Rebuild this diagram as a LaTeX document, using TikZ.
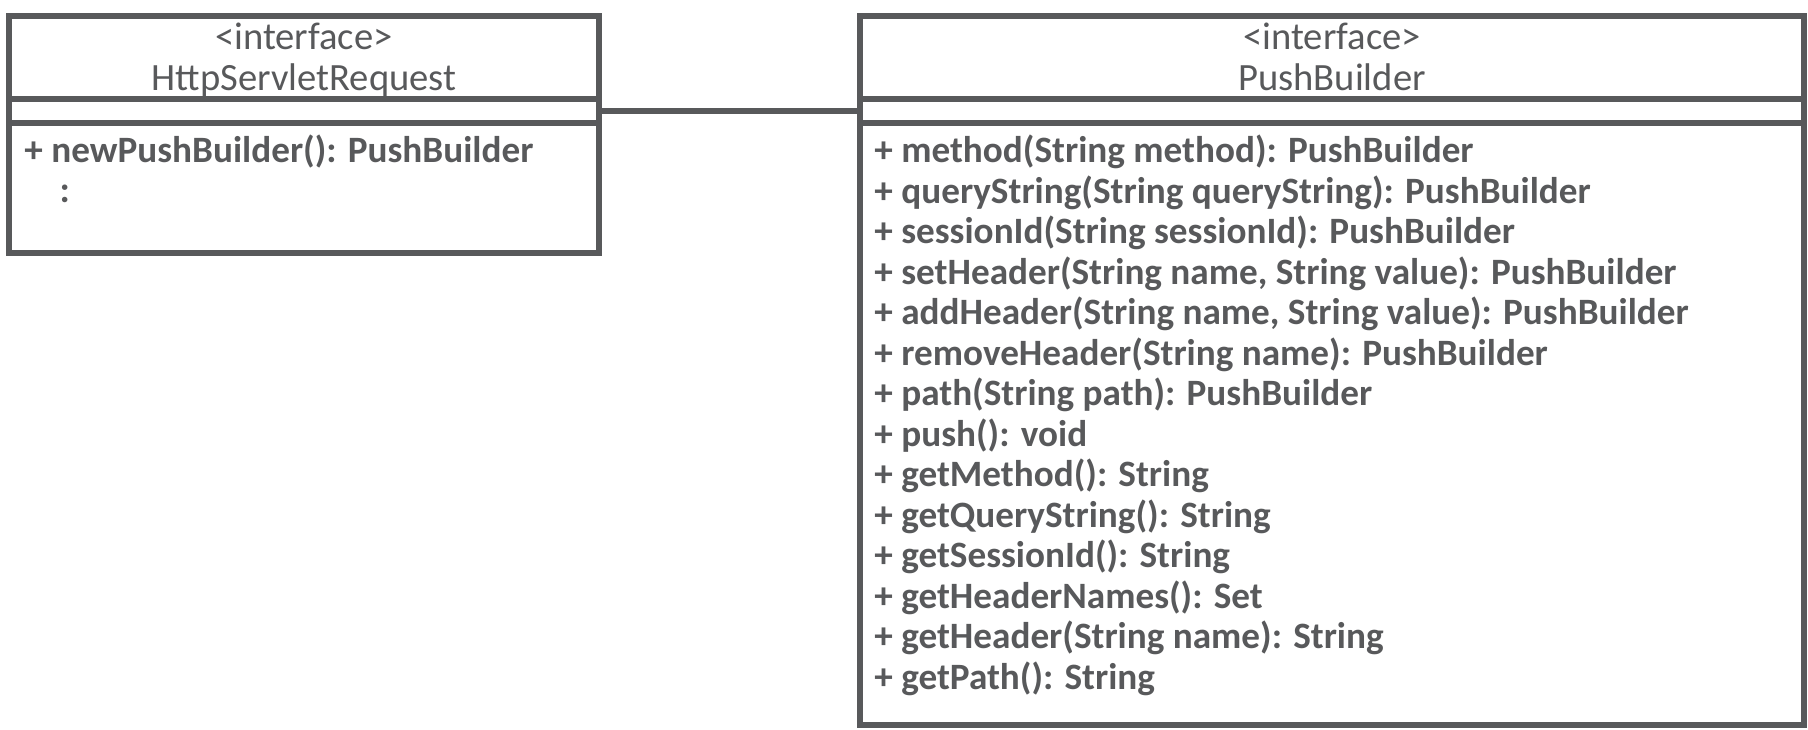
\documentclass[tikz,border=0pt]{standalone}
\usepackage{fontspec}
\setmainfont{Carlito}
\usepackage{tikz}
\usetikzlibrary{positioning}
\definecolor{UMLGray}{HTML}{58595B}

\begin{document}
\begin{tikzpicture}[x=0.5pt, y=-0.5pt,
                    every node/.style={text=UMLGray},
                    part/.style={draw=UMLGray, line width=2.75pt, rectangle, inner sep=0pt,
                                 outer sep=0pt, anchor=north},
                    head/.style={part, align=center, font=\fontsize{19.3}{20.5}\selectfont},
                    ops/.style={anchor=north west, align=left, inner sep=0pt,
                                font=\bfseries\fontsize{18.6}{20.25}\selectfont}]
  \useasboundingbox (0,0) rectangle (1808,729);
  % left class
  \node[head, minimum width=295pt, minimum height=41.5pt] (hsrhead) at (304,16)
    {\rule{0pt}{16.5pt}<interface>\\\smash{HttpServletRequest}\rule[-3.9pt]{0pt}{1pt}};
  \node[part, minimum width=295pt, minimum height=12pt, below=0pt of hsrhead] (hsrattr) {};
  \node[part, minimum width=295pt, minimum height=65pt, below=0pt of hsrattr] (hsrops) {};
  \node[ops] (hsrtext) at (24,134) {+ newPushBuilder(): PushBuilder\\\hspace{0.95em}:};
  % right class
  \node[head, minimum width=472pt, minimum height=41.5pt] (pbhead) at (1332,16)
    {\rule{0pt}{16.5pt}<interface>\\\smash{PushBuilder}\rule[-3.9pt]{0pt}{1pt}};
  \node[part, minimum width=472pt, minimum height=12pt, below=0pt of pbhead] (pbattr) {};
  \node[part, minimum width=472pt, minimum height=301pt, below=0pt of pbattr] (pbops) {};
  \node[ops] (pbtext) at (874,134.5) {+ method(String method): PushBuilder\\
    + queryString(String queryString): PushBuilder\\
    + sessionId(String sessionId): PushBuilder\\
    + setHeader(String name, String value): PushBuilder\\
    + addHeader(String name, String value): PushBuilder\\
    + removeHeader(String name): PushBuilder\\
    + path(String path): PushBuilder\\
    + push(): void\\
    + getMethod(): String\\
    + getQueryString(): String\\
    + getSessionId(): String\\
    + getHeaderNames(): Set\\
    + getHeader(String name): String\\
    + getPath(): String};
  % association
  \draw[UMLGray, line width=2.75pt] (hsrattr.east) -- (pbattr.west);
\end{tikzpicture}
\end{document}
